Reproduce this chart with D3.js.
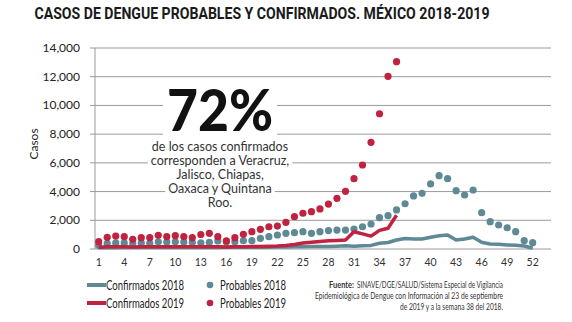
<!DOCTYPE html>
<html>
<head>
<meta charset="utf-8">
<script src="https://cdn.jsdelivr.net/npm/d3@7"></script>
<style>
  html, body { margin: 0; padding: 0; background: #fff; }
  svg { display: block; }
</style>
</head>
<body>
<div id="chart"></div>
<script>
// Semanas epidemiologicas
const weeks = d3.range(1, 53);
const xTickWeeks = [1, 4, 7, 10, 13, 16, 19, 22, 25, 28, 31, 34, 37, 40, 43, 46, 49, 52];
const yTicks = [0, 2000, 4000, 6000, 8000, 10000, 12000, 14000];

// casos por semana
const probables2018 = [250, 400, 420, 420, 380, 420, 400, 500, 480, 500, 480, 460, 430,
  470, 560, 510, 510, 580, 580, 740, 860, 975, 1090, 1140, 1210,
  1090, 1210, 1280, 1320, 1320, 1390, 1550, 1740, 2180, 2320, 2720, 3150, 3700,
  3880, 4530, 5110, 4900, 4060, 3760, 4110, 2530, 1900, 1670, 1480, 1210, 580, 440];
const probables2019 = [510, 815, 905, 860, 675, 790, 790, 950, 860, 930, 860, 790, 1010,
  1090, 860, 560, 790, 1020, 1210, 1370, 1550, 1600, 1860, 2250, 2490, 2600, 2790,
  3130, 3530, 4020, 4900, 5850, 7430, 9420, 12030, 13050];
const confirmados2018 = [80, 90, 90, 100, 100, 100, 100, 110, 110, 110, 110, 110, 110,
  110, 110, 120, 120, 120, 120, 130, 130, 140, 140, 150,
  160, 170, 170, 180, 200, 220, 200, 220, 250, 400, 450, 630,
  730, 700, 700, 815, 925, 975, 630, 700, 815, 465, 350, 330, 280, 255, 210, 50];
const confirmados2019 = [130, 150, 150, 150, 140, 150, 150, 160, 150, 160, 150, 150, 160,
  160, 150, 140, 150, 160, 170, 180, 190, 210, 250, 320, 420, 470, 520, 570, 590, 620,
  1200, 1050, 900, 1300, 1450, 2350];

const red = "#c0223f";
const teal = "#5e8995";

const width = 572, height = 322;
const svg = d3.select("#chart").append("svg")
  .attr("width", width)
  .attr("height", height)
  .style("font-family", "Lato, 'Open Sans', sans-serif");

// titulo
svg.append("text")
  .attr("x", 262).attr("y", 19)
  .attr("text-anchor", "middle")
  .attr("font-family", "Roboto, sans-serif")
  .attr("font-weight", 700)
  .attr("font-size", 16)
  .attr("fill", "#1a1a1a")
  .attr("textLength", 455)
  .attr("lengthAdjust", "spacingAndGlyphs")
  .text("CASOS DE DENGUE PROBABLES Y CONFIRMADOS. MÉXICO 2018-2019");

const x = d3.scaleLinear().domain([1, 52]).range([98.7, 532.7]);
const y = d3.scaleLinear().domain([0, 14000]).range([249, 48]);

// rejilla
svg.append("g")
  .selectAll("line")
  .data(yTicks)
  .join("line")
  .attr("x1", 90).attr("x2", 551)
  .attr("y1", d => y(d)).attr("y2", d => y(d))
  .attr("stroke", "#9a9a9a")
  .attr("stroke-width", 1);

svg.append("line")
  .attr("x1", 95).attr("x2", 95)
  .attr("y1", y(14000)).attr("y2", y(0))
  .attr("stroke", "#9a9a9a");

// etiquetas eje y
svg.append("g")
  .selectAll("text")
  .data(yTicks)
  .join("text")
  .attr("x", 80)
  .attr("y", d => y(d) + 4)
  .attr("text-anchor", "end")
  .attr("font-size", 12)
  .attr("fill", "#222")
  .text(d3.format(","));

svg.append("text")
  .attr("transform", "translate(38,144) rotate(-90)")
  .attr("text-anchor", "middle")
  .attr("font-size", 12)
  .attr("fill", "#222")
  .text("Casos");

// etiquetas eje x
svg.append("g")
  .selectAll("text")
  .data(xTickWeeks)
  .join("text")
  .attr("x", d => x(d))
  .attr("y", 266)
  .attr("text-anchor", "middle")
  .attr("font-size", 10.5)
  .attr("fill", "#333")
  .text(d => d);

// anotacion (con fondo blanco que corta la rejilla)
const note = svg.append("g");
const noteLines = ["de los casos confirmados", "corresponden a Veracruz,", "Jalisco, Chiapas,", "Oaxaca y Quintana", "Roo."];
const big = note.append("text")
  .attr("x", 220).attr("y", 131)
  .attr("text-anchor", "middle")
  .attr("font-family", "Lato, sans-serif")
  .attr("font-weight", 900)
  .attr("font-size", 58)
  .attr("fill", "#111")
  .attr("textLength", 106)
  .attr("lengthAdjust", "spacingAndGlyphs")
  .text("72%");
const small = note.selectAll("text.l")
  .data(noteLines)
  .join("text")
  .attr("class", "l")
  .attr("x", 220)
  .attr("y", (d, i) => 150.5 + i * 14)
  .attr("text-anchor", "middle")
  .attr("font-size", 12.5)
  .attr("fill", "#333")
  .text(d => d);

const bgs = [];
const bb = big.node().getBBox();
bgs.push({ x: bb.x - 4, y: bb.y + 4, w: bb.width + 8, h: bb.height - 8 });
small.each(function() {
  const b = this.getBBox();
  bgs.push({ x: b.x - 3, y: b.y + 1, w: b.width + 6, h: b.height - 2 });
});
note.insert("g", ":first-child")
  .selectAll("rect")
  .data(bgs)
  .join("rect")
  .attr("x", d => d.x).attr("y", d => d.y)
  .attr("width", d => d.w).attr("height", d => d.h)
  .attr("fill", "#fff");

// puntos
const dotR = 3.6;
svg.append("g")
  .selectAll("circle")
  .data(probables2018)
  .join("circle")
  .attr("cx", (d, i) => x(weeks[i]))
  .attr("cy", d => y(d))
  .attr("r", dotR)
  .attr("fill", teal);

svg.append("g")
  .selectAll("circle")
  .data(probables2019)
  .join("circle")
  .attr("cx", (d, i) => x(weeks[i]))
  .attr("cy", d => y(d))
  .attr("r", dotR)
  .attr("fill", red);

// lineas
const line = d3.line()
  .x((d, i) => x(weeks[i]))
  .y(d => y(d));

svg.append("path")
  .datum(confirmados2018)
  .attr("d", line)
  .attr("fill", "none")
  .attr("stroke", teal)
  .attr("stroke-width", 3.5)
  .attr("stroke-linejoin", "round");

svg.append("path")
  .datum(confirmados2019)
  .attr("d", line)
  .attr("fill", "none")
  .attr("stroke", red)
  .attr("stroke-width", 3.5)
  .attr("stroke-linejoin", "round");

// leyenda
const legend = svg.append("g");
const lineItems = [
  { label: "Confirmados 2018", color: teal, y: 285 },
  { label: "Confirmados 2019", color: red, y: 303 }
];
const dotItems = [
  { label: "Probables 2018", color: teal, y: 285 },
  { label: "Probables 2019", color: red, y: 303 }
];
lineItems.forEach(d => {
  legend.append("line")
    .attr("x1", 87).attr("x2", 106)
    .attr("y1", d.y).attr("y2", d.y)
    .attr("stroke", d.color).attr("stroke-width", 4);
  legend.append("text")
    .attr("x", 106).attr("y", d.y + 4.5)
    .attr("font-size", 13).attr("fill", "#222")
    .attr("textLength", 78).attr("lengthAdjust", "spacingAndGlyphs")
    .text(d.label);
});
dotItems.forEach(d => {
  legend.append("circle")
    .attr("cx", 210).attr("cy", d.y).attr("r", 3.3)
    .attr("fill", d.color);
  legend.append("text")
    .attr("x", 220).attr("y", d.y + 4.5)
    .attr("font-size", 13).attr("fill", "#222")
    .attr("textLength", 66).attr("lengthAdjust", "spacingAndGlyphs")
    .text(d.label);
});

// fuente
const src = svg.append("g")
  .attr("font-size", 8.5)
  .attr("fill", "#333");
src.append("text").attr("x", 329).attr("y", 288)
  .attr("font-weight", 700)
  .attr("textLength", 25).attr("lengthAdjust", "spacingAndGlyphs")
  .text("Fuente:");
src.append("text").attr("x", 357).attr("y", 288)
  .attr("textLength", 146).attr("lengthAdjust", "spacingAndGlyphs")
  .text("SINAVE/DGE/SALUD/Sistema Especial de Vigilancia");
src.append("text").attr("x", 315).attr("y", 299)
  .attr("textLength", 188).attr("lengthAdjust", "spacingAndGlyphs")
  .text("Epidemiológica de Dengue con Información al 23 de septiembre");
src.append("text").attr("x", 400).attr("y", 310)
  .attr("textLength", 103).attr("lengthAdjust", "spacingAndGlyphs")
  .text("de 2019 y a la semana 38 del 2018.");
</script>
</body>
</html>
